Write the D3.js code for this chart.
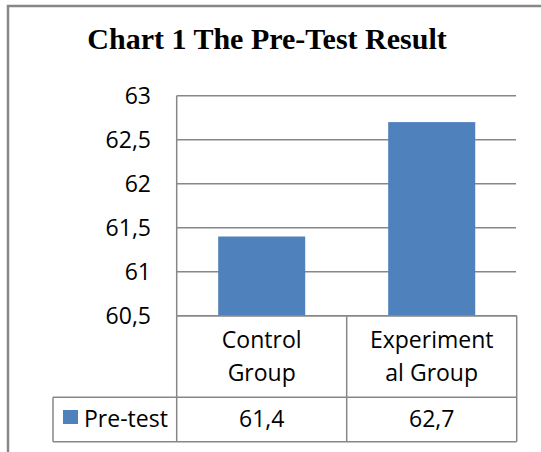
<!DOCTYPE html>
<html>
<head>
<meta charset="utf-8">
<title>Chart 1 The Pre-Test Result</title>
<style>
  body { margin: 0; background: #fff; }
  svg { display: block; }
  .lbl { font-family: "Open Sans", "Noto Sans", sans-serif; font-size: 23px; fill: #000; }
</style>
</head>
<body>
<svg width="541" height="452"></svg>
<script src="https://d3js.org/d3.v7.min.js"></script>
<script>
// data
var categories = ["Control Group", "Experimental Group"];
var catLines = [["Control", "Group"], ["Experiment", "al Group"]];
var seriesName = "Pre-test";
var values = [61.4, 62.7];
var yTicks = [60.5, 61, 61.5, 62, 62.5, 63];

var svg = d3.select("svg");
var fmt = function(v) { return String(v).replace(".", ","); };

// outer frame (runs past the right/bottom of the crop)
svg.append("rect")
    .attr("x", 8).attr("y", 6)
    .attr("width", 560).attr("height", 480)
    .attr("fill", "none").attr("stroke", "#878787").attr("stroke-width", 2.5);

svg.append("text")
    .attr("x", 267).attr("y", 49)
    .attr("text-anchor", "middle")
    .attr("font-family", "'Liberation Serif', 'Times New Roman', serif")
    .attr("font-weight", "bold")
    .attr("font-size", 30)
    .text("Chart 1 The Pre-Test Result");

var plotL = 176.7, plotR = 516.7, plotT = 95.7, plotB = 315.7;

var y = d3.scaleLinear().domain([60.5, 63]).range([plotB, plotT]);
var cell = d3.scaleBand().domain(categories).range([plotL, plotR]);
var x = d3.scaleBand().domain(categories).range([plotL, plotR])
    .paddingInner(0.488).paddingOuter(0.244);

// gridlines
svg.append("g")
  .selectAll("line")
  .data(yTicks)
  .enter().append("line")
    .attr("x1", plotL).attr("x2", plotR - 0.7)
    .attr("y1", function(d) { return y(d); })
    .attr("y2", function(d) { return y(d); })
    .attr("stroke", "#878787").attr("stroke-width", 1.5);

// axis line
svg.append("line")
    .attr("x1", plotL).attr("x2", plotL)
    .attr("y1", plotT).attr("y2", plotB)
    .attr("stroke", "#878787").attr("stroke-width", 1.5);

svg.append("g")
  .selectAll("text")
  .data(yTicks)
  .enter().append("text")
    .attr("class", "lbl")
    .attr("x", 151)
    .attr("y", function(d) { return y(d); })
    .attr("dy", "0.35em")
    .attr("text-anchor", "end")
    .text(fmt);

// bars
svg.append("g")
  .selectAll("rect")
  .data(values)
  .enter().append("rect")
    .attr("x", function(d, i) { return x(categories[i]); })
    .attr("width", x.bandwidth())
    .attr("y", function(d) { return y(d); })
    .attr("height", function(d) { return plotB - y(d); })
    .attr("fill", "#4f81bd");

// data table
var rowMid = 397.3, tBottom = 441.7, legLeft = 53;
var tbl = svg.append("g")
    .attr("stroke", "#878787").attr("stroke-width", 1.5);
tbl.append("line").attr("x1", plotL).attr("x2", plotR).attr("y1", plotB).attr("y2", plotB);
tbl.append("line").attr("x1", legLeft).attr("x2", plotR).attr("y1", rowMid).attr("y2", rowMid);
tbl.append("line").attr("x1", legLeft).attr("x2", plotR).attr("y1", tBottom).attr("y2", tBottom);
tbl.append("line").attr("x1", legLeft).attr("x2", legLeft).attr("y1", rowMid).attr("y2", tBottom);
tbl.selectAll("line.v")
  .data(categories.concat([null]))
  .enter().append("line")
    .attr("x1", function(d) { return d ? cell(d) : plotR; })
    .attr("x2", function(d) { return d ? cell(d) : plotR; })
    .attr("y1", plotB).attr("y2", tBottom);

var head = svg.append("g")
  .selectAll("text")
  .data(catLines)
  .enter().append("text")
    .attr("class", "lbl")
    .attr("text-anchor", "middle")
    .attr("x", function(d, i) { return cell(categories[i]) + cell.bandwidth() / 2; });
head.selectAll("tspan")
  .data(function(d) { return d; })
  .enter().append("tspan")
    .attr("x", function() { return d3.select(this.parentNode).attr("x"); })
    .attr("y", function(d, i) { return 348 + i * 33; })
    .text(function(d) { return d; });

svg.append("g")
  .selectAll("text")
  .data(values)
  .enter().append("text")
    .attr("class", "lbl")
    .attr("text-anchor", "middle")
    .attr("x", function(d, i) { return cell(categories[i]) + cell.bandwidth() / 2; })
    .attr("y", 427)
    .text(fmt);

// legend key in the table
svg.append("rect")
    .attr("x", 63).attr("y", 410)
    .attr("width", 15).attr("height", 14)
    .attr("fill", "#4f81bd");
svg.append("text")
    .attr("class", "lbl")
    .attr("x", 84).attr("y", 427)
    .text(seriesName);
</script>
</body>
</html>
